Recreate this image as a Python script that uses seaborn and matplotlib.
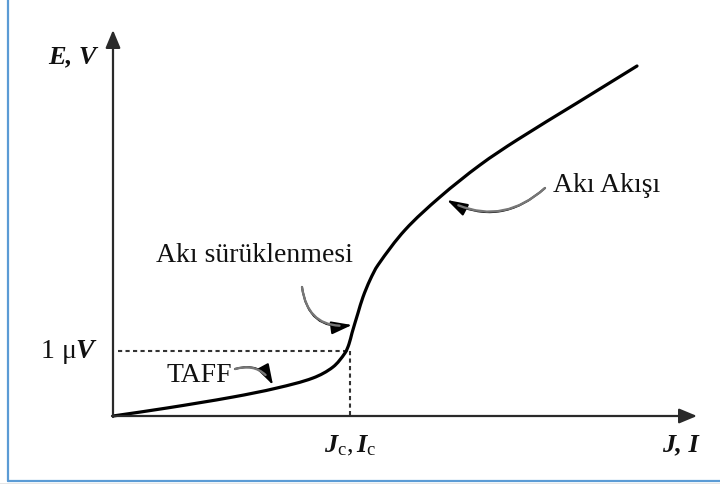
import matplotlib
matplotlib.use("Agg")
import numpy as np
import matplotlib.pyplot as plt
from matplotlib.lines import Line2D
from matplotlib.patches import Rectangle
from matplotlib.path import Path
from matplotlib.patheffects import AbstractPathEffect
from matplotlib.transforms import Affine2D
import seaborn as sns

# E-J characteristic of a superconductor (arbitrary units)
current = [0, 54, 120, 164, 200, 220, 232, 236, 239, 245, 250, 257, 265, 292, 327, 367, 404, 464, 524]
field = [0, 8, 19, 28, 38, 49, 63, 72, 83, 103, 119, 136, 151, 186, 219, 251, 276, 313, 350]

# criterion level and critical current
e_criterion = 65
j_critical = 237

# axis extents
x_axis_end = 584
y_axis_end = 386

region_labels = ["TAFF", "Akı sürüklenmesi", "Akı Akışı"]


class SmoothStroke(AbstractPathEffect):
    """Stroke a polyline as a chord-length cardinal spline through its vertices."""

    def draw_path(self, renderer, gc, tpath, affine, rgbFace=None):
        pts = affine.transform(tpath.vertices)
        n = len(pts)
        if n < 3:
            renderer.draw_path(gc, tpath, affine, rgbFace)
            return
        d = np.hypot(*np.diff(pts, axis=0).T)
        d[d == 0] = 1e-9
        tang = np.zeros_like(pts)
        tang[0] = (pts[1] - pts[0]) / d[0]
        tang[-1] = (pts[-1] - pts[-2]) / d[-1]
        for i in range(1, n - 1):
            tang[i] = (pts[i + 1] - pts[i - 1]) / (d[i - 1] + d[i])
        verts = [pts[0]]
        codes = [Path.MOVETO]
        for i in range(n - 1):
            c1 = pts[i] + tang[i] * d[i] / 3
            c2 = pts[i + 1] - tang[i + 1] * d[i] / 3
            verts += [c1, c2, pts[i + 1]]
            codes += [Path.CURVE4] * 3
        renderer.draw_path(gc, Path(np.array(verts), codes), Affine2D(), None)


sns.set_theme(style="white")
plt.rcParams["font.family"] = ["Liberation Serif", "DejaVu Serif"]
plt.rcParams["mathtext.fontset"] = "custom"
plt.rcParams["mathtext.rm"] = "Liberation Serif"
plt.rcParams["mathtext.it"] = "Liberation Serif:italic:bold"
plt.rcParams["mathtext.bf"] = "Liberation Serif:bold"

fig = plt.figure(figsize=(7.2, 4.84), dpi=100)
ax = fig.add_axes([0, 0, 1, 1])
ax.set_xlim(-113, 607)
ax.set_ylim(-68, 416)
ax.axis("off")

# page frame
fig.add_artist(Line2D([7.5 / 720, 7.5 / 720], [1.0, 1 - 481 / 484],
                      color="#5b9bd5", lw=1.6, transform=fig.transFigure))
fig.add_artist(Line2D([7.5 / 720, 1.0], [1 - 481 / 484, 1 - 481 / 484],
                      color="#5b9bd5", lw=1.6, transform=fig.transFigure))
fig.add_artist(Rectangle((0, 0), 1, 1.5 / 484, color="#e6e6e6",
                         transform=fig.transFigure, lw=0))

# axes with arrowheads
axis_arrow = dict(arrowstyle="-|>,head_length=0.6,head_width=0.25",
                  color="#2a2a2a", lw=1.6, mutation_scale=18, shrinkA=0, shrinkB=0)
ax.annotate("", xy=(0, y_axis_end), xytext=(0, -1), arrowprops=axis_arrow)
ax.annotate("", xy=(x_axis_end, 0), xytext=(-1, 0), arrowprops=axis_arrow)

# criterion guides
ax.plot([5, j_critical], [e_criterion, e_criterion], color="#333333", lw=1.5,
        linestyle=(0, (2, 1.6)))
ax.plot([j_critical, j_critical], [e_criterion, 0], color="#333333", lw=1.5,
        linestyle=(0, (2, 1.6)))

# characteristic curve
sns.lineplot(x=current, y=field, sort=False, color="black", lw=2.3, ax=ax)
curve = ax.lines[-1]
curve.set_path_effects([SmoothStroke()])
curve.set_solid_capstyle("round")

# labels
txt = dict(color="#111111", fontsize=20)
ax.text(-41, 353, "E, V", ha="center", va="baseline", fontstyle="italic",
        fontweight="bold", color="#111111", fontsize=19)
ax.text(-15, 58, r"$\mathrm{1\ μ}V$", ha="right", va="baseline", **txt)
ax.text(237, -36, r"$J_\mathrm{c}, I_\mathrm{c}$", ha="center", va="baseline",
        color="#111111", fontsize=19)
ax.text(567, -35, "J, I", ha="center", va="baseline", fontstyle="italic",
        fontweight="bold", color="#111111", fontsize=19)

ax.text(86, 34, region_labels[0], ha="center", va="baseline", **txt)
ax.text(142, 154, region_labels[1], ha="center", va="baseline", **txt)
ax.text(494, 224, region_labels[2], ha="center", va="baseline", **txt)


# pointers from labels to the curve: black head, grey shaft
def pointer(tip, tail, rad):
    style = f"arc3,rad={rad}"
    ax.annotate("", xy=tip, xytext=tail,
                arrowprops=dict(arrowstyle="-|>,head_length=0.9,head_width=0.28",
                                color="black", lw=1.4, mutation_scale=14,
                                shrinkA=0, shrinkB=0, connectionstyle=style))
    ax.annotate("", xy=tip, xytext=tail,
                arrowprops=dict(arrowstyle="-", color="#777777", lw=1.7,
                                shrinkA=0, shrinkB=9, connectionstyle=style))


pointer((160, 31), (122, 47), -0.4)
pointer((239, 91), (189, 129), 0.5)
pointer((334, 216), (432, 228), -0.35)

fig.savefig("out.png", dpi=100)
